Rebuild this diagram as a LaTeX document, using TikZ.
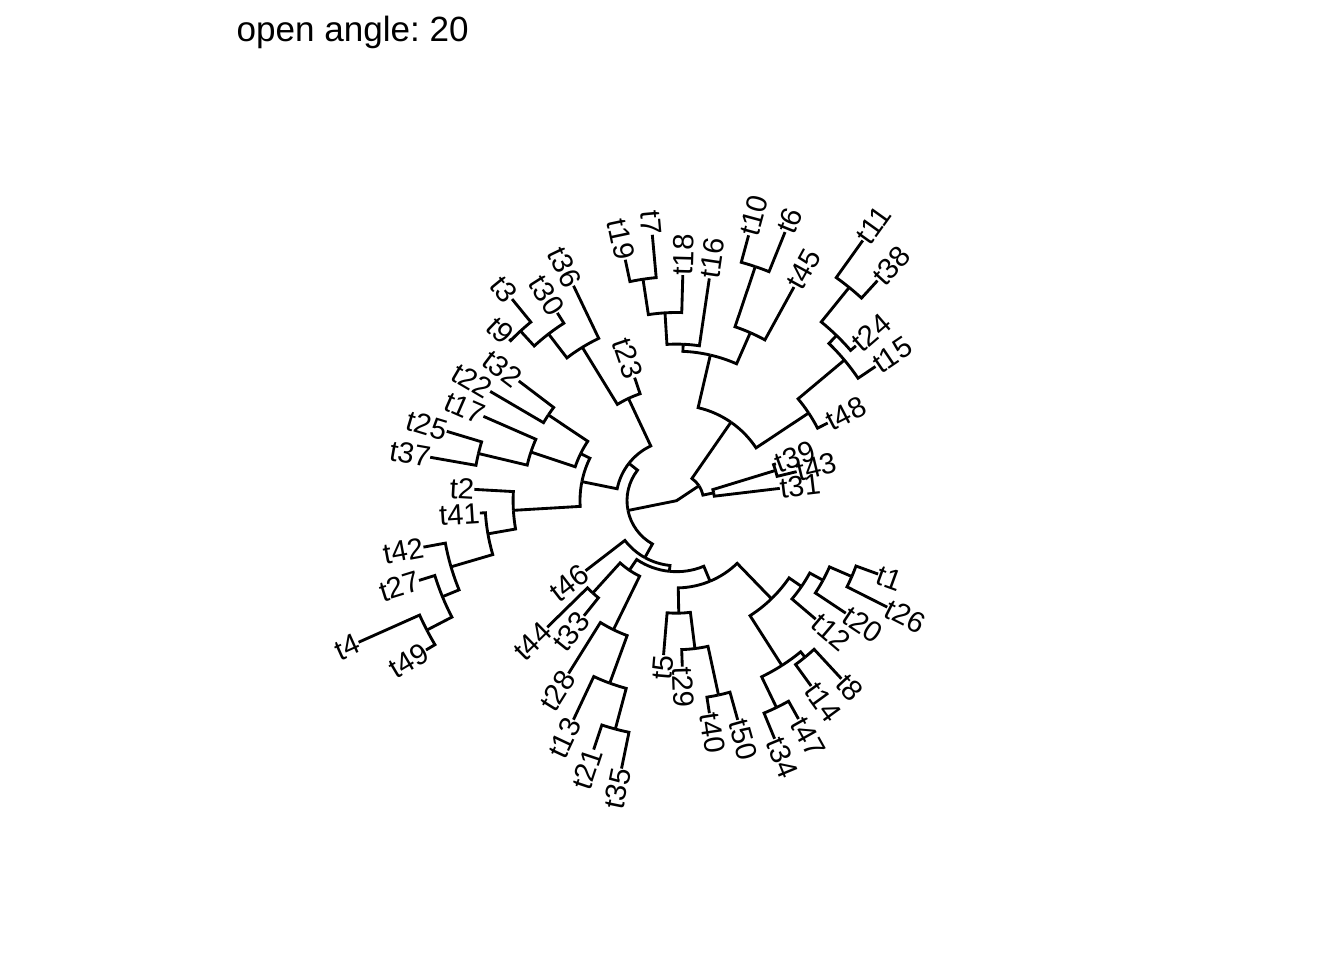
\documentclass[tikz,border=0pt]{standalone}
\usepackage{fontspec}
\setmainfont{Liberation Sans}
\frenchspacing
\makeatletter
\newcommand\TNode[3]{\expandafter\gdef\csname tang@#1\endcsname{#2}\expandafter\gdef\csname trad@#1\endcsname{#3}\coordinate (#1) at (#2:#3);}
\newcommand\TAng[1]{\csname tang@#1\endcsname}
\newcommand\TRad[1]{\csname trad@#1\endcsname}
\newcommand\TEdge[2]{\draw[br] (#1) arc[start angle=\TAng{#1}, end angle=\TAng{#2}, radius=\TRad{#1}] -- (#2);}
\newcommand\TLab[1]{\pgfmathsetmacro\tlA{\TAng{#1}}\pgfmathtruncatemacro\tlF{(\tlA>90)&&(\tlA<270)}%
 \ifnum\tlF=1 \node[lab,anchor=east,rotate=\tlA-180] (L#1) at (#1) {#1};\else \node[lab,anchor=west,rotate=\tlA] (L#1) at (#1) {#1};\fi}
\makeatother
\begin{document}
\begin{tikzpicture}[x=1bp,y=1bp,
  br/.style={line width=2.85bp, black},
  lab/.style={inner sep=0pt, font=\fontsize{29.3}{35}\selectfont}]
\fill[white] (0,0) rectangle (1344,960);
\useasboundingbox (0,0) rectangle (1344,960);
\node[anchor=base west, inner sep=0pt, font=\fontsize{35.2}{42}\selectfont] (title) at (236.5,918) {open angle:\ 20};
\begin{scope}[shift={(676.5,459.3)}]
\coordinate (R) at (0,0);
% internal nodes
\TNode{A}{191.41}{49.5}
\TNode{B}{33.575}{27}
\TNode{B1}{11.9}{38}
\TNode{P1}{17}{103.5}
\TNode{B2}{55.25}{95.5}
\TNode{N48}{33.575}{158.6}
\TNode{Na}{39.95}{219}
\TNode{Nb}{45.9}{230}
\TNode{Nc}{51}{274.4}
\TNode{B2a}{76.925}{149.5}
\TNode{B2a2}{66.3}{183.5}
\TNode{P6}{71.4}{247}
\TNode{B2a1}{87.55}{156.6}
\TNode{Nd}{93.5}{188.2}
\TNode{P7}{98.6}{224}
\TNode{A1}{141.897}{60.5}
\TNode{Nf}{115.175}{113}
\TNode{Ng}{121.55}{180}
\TNode{Nh}{127.5}{210.2}
\TNode{P3}{132.6}{230.5}
\TNode{Ne}{168.619}{96.5}
\TNode{Ni}{153.85}{106.8}
\TNode{Nj}{146.2}{154.2}
\TNode{Nk}{161.5}{153.5}
\TNode{P25}{166.6}{203.6}
\TNode{Nl}{183.3875}{163.4}
\TNode{Nm}{189.975}{191.5}
\TNode{Nn}{196.35}{235}
\TNode{No}{202.3}{253}
\TNode{P4}{207.4}{281.2}
\TNode{A2}{240.922}{65.1}
\TNode{A2b}{264.244}{71}
\TNode{A2b1}{235.875}{84}
\TNode{P44}{227.8}{124.6}
\TNode{Np}{243.95}{143.6}
\TNode{Nq}{249.9}{194.3}
\TNode{P21}{255}{236.4}
\TNode{A2b2}{292.6125}{87.2}
\TNode{A2b2a}{271.15}{112.5}
\TNode{Nr}{277.1}{149}
\TNode{P40}{282.2}{198.8}
\TNode{A2b2b}{314.075}{136.5}
\TNode{A2b2b1}{302.6}{195.6}
\TNode{P34}{295.8}{229.7}
\TNode{P14}{309.4}{202.5}
\TNode{A2b2b2}{325.55}{151.6}
\TNode{Ns}{331.5}{166.7}
\TNode{P26}{336.6}{191}
% tips
\TNode{t31}{6.8}{104}
\TNode{t43}{13.6}{123.6}
\TNode{t39}{20.4}{106}
\TNode{t48}{27.2}{170}
\TNode{t15}{34}{240}
\TNode{t24}{40.8}{237}
\TNode{t38}{47.6}{298}
\TNode{t11}{54.4}{320}
\TNode{t45}{61.2}{243.8}
\TNode{t6}{68}{289.7}
\TNode{t10}{74.8}{275}
\TNode{t16}{81.6}{224.7}
\TNode{t18}{88.4}{225.7}
\TNode{t7}{95.2}{267}
\TNode{t19}{102}{246.3}
\TNode{t23}{108.8}{130}
\TNode{t36}{115.6}{238.3}
\TNode{t30}{122.4}{222.4}
\TNode{t3}{129.2}{260.2}
\TNode{t9}{136}{232.6}
\TNode{t32}{142.8}{198}
\TNode{t22}{149.6}{216}
\TNode{t17}{156.4}{210.7}
\TNode{t25}{163.2}{240}
\TNode{t37}{170}{250.1}
\TNode{t2}{176.8}{202.5}
\TNode{t41}{183.6}{197}
\TNode{t42}{190.4}{257.3}
\TNode{t27}{197.2}{269.6}
\TNode{t4}{204}{348}
\TNode{t49}{210.8}{291.6}
\TNode{t46}{217.6}{114.8}
\TNode{t44}{224.4}{180.9}
\TNode{t33}{231.2}{147.7}
\TNode{t28}{238}{203.7}
\TNode{t13}{244.8}{242}
\TNode{t21}{251.6}{262.3}
\TNode{t35}{258.4}{273.5}
\TNode{t5}{265.2}{154.9}
\TNode{t29}{272}{166}
\TNode{t40}{278.8}{215}
\TNode{t50}{285.6}{227.6}
\TNode{t34}{292.4}{257.5}
\TNode{t47}{299.2}{250.1}
\TNode{t14}{306}{229}
\TNode{t8}{312.8}{242.7}
\TNode{t12}{319.6}{182.8}
\TNode{t20}{326.4}{203.2}
\TNode{t26}{333.2}{236.1}
\TNode{t1}{340}{214.5}
% edges
\draw[br] (A) -- (R) -- (B);
\TEdge{B}{B1}\TEdge{B}{B2}
\TEdge{B1}{t31}\TEdge{B1}{P1}
\TEdge{P1}{t43}\TEdge{P1}{t39}
\TEdge{B2}{N48}\TEdge{B2}{B2a}
\TEdge{N48}{t48}\TEdge{N48}{Na}
\TEdge{Na}{t15}\TEdge{Na}{Nb}
\TEdge{Nb}{t24}\TEdge{Nb}{Nc}
\TEdge{Nc}{t38}\TEdge{Nc}{t11}
\TEdge{B2a}{B2a2}\TEdge{B2a}{B2a1}
\TEdge{B2a2}{t45}\TEdge{B2a2}{P6}
\TEdge{P6}{t6}\TEdge{P6}{t10}
\TEdge{B2a1}{t16}\TEdge{B2a1}{Nd}
\TEdge{Nd}{t18}\TEdge{Nd}{P7}
\TEdge{P7}{t7}\TEdge{P7}{t19}
\TEdge{A}{A1}\TEdge{A}{A2}
\TEdge{A1}{Nf}\TEdge{A1}{Ne}
\TEdge{Nf}{t23}\TEdge{Nf}{Ng}
\TEdge{Ng}{t36}\TEdge{Ng}{Nh}
\TEdge{Nh}{t30}\TEdge{Nh}{P3}
\TEdge{P3}{t3}\TEdge{P3}{t9}
\TEdge{Ne}{Ni}\TEdge{Ne}{Nl}
\TEdge{Ni}{Nj}\TEdge{Ni}{Nk}
\TEdge{Nj}{t32}\TEdge{Nj}{t22}
\TEdge{Nk}{t17}\TEdge{Nk}{P25}
\TEdge{P25}{t25}\TEdge{P25}{t37}
\TEdge{Nl}{t2}\TEdge{Nl}{Nm}
\TEdge{Nm}{t41}\TEdge{Nm}{Nn}
\TEdge{Nn}{t42}\TEdge{Nn}{No}
\TEdge{No}{t27}\TEdge{No}{P4}
\TEdge{P4}{t4}\TEdge{P4}{t49}
\TEdge{A2}{t46}\TEdge{A2}{A2b}
\TEdge{A2b}{A2b1}\TEdge{A2b}{A2b2}
\TEdge{A2b1}{P44}\TEdge{A2b1}{Np}
\TEdge{P44}{t44}\TEdge{P44}{t33}
\TEdge{Np}{t28}\TEdge{Np}{Nq}
\TEdge{Nq}{t13}\TEdge{Nq}{P21}
\TEdge{P21}{t21}\TEdge{P21}{t35}
\TEdge{A2b2}{A2b2a}\TEdge{A2b2}{A2b2b}
\TEdge{A2b2a}{t5}\TEdge{A2b2a}{Nr}
\TEdge{Nr}{t29}\TEdge{Nr}{P40}
\TEdge{P40}{t40}\TEdge{P40}{t50}
\TEdge{A2b2b}{A2b2b1}\TEdge{A2b2b}{A2b2b2}
\TEdge{A2b2b1}{P34}\TEdge{A2b2b1}{P14}
\TEdge{P34}{t34}\TEdge{P34}{t47}
\TEdge{P14}{t14}\TEdge{P14}{t8}
\TEdge{A2b2b2}{t12}\TEdge{A2b2b2}{Ns}
\TEdge{Ns}{t20}\TEdge{Ns}{P26}
\TEdge{P26}{t26}\TEdge{P26}{t1}
% labels
\TLab{t31}\TLab{t43}\TLab{t39}\TLab{t48}\TLab{t15}\TLab{t24}\TLab{t38}\TLab{t11}
\TLab{t45}\TLab{t6}\TLab{t10}\TLab{t16}\TLab{t18}\TLab{t7}\TLab{t19}\TLab{t23}
\TLab{t36}\TLab{t30}\TLab{t3}\TLab{t9}\TLab{t32}\TLab{t22}\TLab{t17}\TLab{t25}
\TLab{t37}\TLab{t2}\TLab{t41}\TLab{t42}\TLab{t27}\TLab{t4}\TLab{t49}\TLab{t46}
\TLab{t44}\TLab{t33}\TLab{t28}\TLab{t13}\TLab{t21}\TLab{t35}\TLab{t5}\TLab{t29}
\TLab{t40}\TLab{t50}\TLab{t34}\TLab{t47}\TLab{t14}\TLab{t8}\TLab{t12}\TLab{t20}
\TLab{t26}\TLab{t1}
\end{scope}
\end{tikzpicture}
\end{document}
